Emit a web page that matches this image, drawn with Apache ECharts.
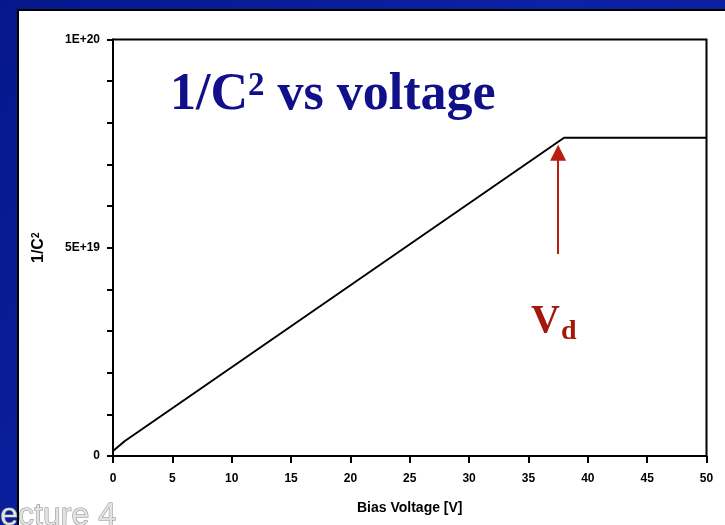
<!DOCTYPE html>
<html style="height: 100%">
   <head>
       <meta charset="utf-8">
   </head>
   <body style="height: 100%; margin: 0">
       <div id="container" style="width: 725px; height: 525px"></div>
       <script type="text/javascript" src="https://cdn.jsdelivr.net/npm/echarts@6/dist/echarts.min.js"></script>
       <script type="text/javascript">
var dom = document.getElementById("container");
var myChart = echarts.init(dom);

// bias voltage [V] and 1/C^2
var voltage = [0, 1, 38, 50];
var invC2 = [1.2e18, 3.6e18, 7.64e19, 7.64e19];

// tick labels
var xTicks = ['0', '5', '10', '15', '20', '25', '30', '35', '40', '45', '50'];
var yTickLabels = ['0', '5E+19', '1E+20'];

// depletion voltage arrow (x, from y, to y)
var arrowX = 37.5;
var arrowFrom = 4.85e19;
var arrowTo = 7.28e19;

var lineData = voltage.map(function (v, i) { return [v, invC2[i]]; });

var axisFont = 'Liberation Sans, Arial, sans-serif';
var serifFont = 'Liberation Serif, Times New Roman, serif';

option = {
    backgroundColor: {
        type: 'linear', x: 0, y: 0, x2: 1, y2: 1,
        colorStops: [{offset: 0, color: '#06178c'}, {offset: 0.5, color: '#0b22a3'}, {offset: 1, color: '#0a1d98'}]
    },
    animation: false,
    graphic: [
        {   // white slide panel
            type: 'rect', z: -10,
            shape: {x: 18, y: 10, width: 800, height: 600},
            style: {fill: '#ffffff', stroke: '#000000', lineWidth: 2}
        },
        {
            type: 'text', z: 100, left: 170, top: 70,
            style: {
                rich: {
                    a: {fontFamily: serifFont, fontWeight: 'bold', fontSize: 52, fill: '#10108a'},
                    s: {fontFamily: serifFont, fontWeight: 'bold', fontSize: 33, fill: '#10108a', verticalAlign: 'top'}
                },
                text: '{a|1/C}{s|2}{a| vs voltage}'
            }
        },
        {
            type: 'text', z: 100, left: 531, top: 302,
            style: {text: 'V', font: 'bold 40px ' + serifFont, fill: '#a3180b'}
        },
        {
            type: 'text', z: 100, left: 561, top: 318,
            style: {text: 'd', font: 'bold 28px ' + serifFont, fill: '#a3180b'}
        },
        {
            type: 'text', z: 100, left: -18, top: 500,
            style: {text: 'Lecture 4', font: '32px ' + axisFont, fill: '#e2e2e2', stroke: '#8a8a8a', lineWidth: 1}
        }
    ],
    grid: {
        left: 113,
        right: 18.5,
        top: 39.5,
        bottom: 69,
        show: true,
        borderColor: '#000',
        borderWidth: 2,
        backgroundColor: 'transparent'
    },
    xAxis: {
        type: 'value',
        min: 0,
        max: 50,
        interval: 5,
        name: 'Bias Voltage [V]',
        nameLocation: 'middle',
        nameGap: 45,
        nameTextStyle: {fontFamily: axisFont, fontWeight: 'bold', fontSize: 14, color: '#000'},
        axisLine: {lineStyle: {color: '#000', width: 2}},
        axisTick: {length: 7, lineStyle: {color: '#000', width: 2}},
        axisLabel: {
            margin: 17,
            fontFamily: axisFont, fontWeight: 'bold', fontSize: 12, color: '#000',
            formatter: function (v) { return xTicks[Math.round(v / 5)]; }
        },
        splitLine: {show: false}
    },
    yAxis: {
        type: 'value',
        min: 0,
        max: 1e20,
        interval: 5e19,
        name: '{a|1/C}{s|2}',
        nameLocation: 'middle',
        nameRotate: 90,
        nameGap: 66,
        nameTextStyle: {
            rich: {
                a: {fontFamily: axisFont, fontWeight: 'bold', fontSize: 16, color: '#000'},
                s: {fontFamily: axisFont, fontWeight: 'bold', fontSize: 10, color: '#000', verticalAlign: 'top'}
            }
        },
        axisLine: {lineStyle: {color: '#000', width: 2}},
        axisTick: {length: 6, lineStyle: {color: '#000', width: 2}},
        minorTick: {show: true, splitNumber: 5, length: 6, lineStyle: {color: '#000', width: 2}},
        axisLabel: {
            margin: 13,
            fontFamily: axisFont, fontWeight: 'bold', fontSize: 12, color: '#000',
            formatter: function (v) { return yTickLabels[Math.round(v / 5e19)]; }
        },
        splitLine: {show: false}
    },
    series: [
        {
            type: 'line',
            data: lineData,
            symbol: 'none',
            lineStyle: {color: '#000', width: 2},
            markLine: {
                silent: true,
                animation: false,
                symbol: ['none', 'triangle'],
                symbolSize: [16, 16],
                label: {show: false},
                lineStyle: {color: '#b81e0e', width: 2, type: 'solid'},
                data: [[{coord: [arrowX, arrowFrom]}, {coord: [arrowX, arrowTo]}]]
            }
        }
    ]
};

if (option && typeof option === "object") {
    myChart.setOption(option, true);
}
       </script>
   </body>
</html>
